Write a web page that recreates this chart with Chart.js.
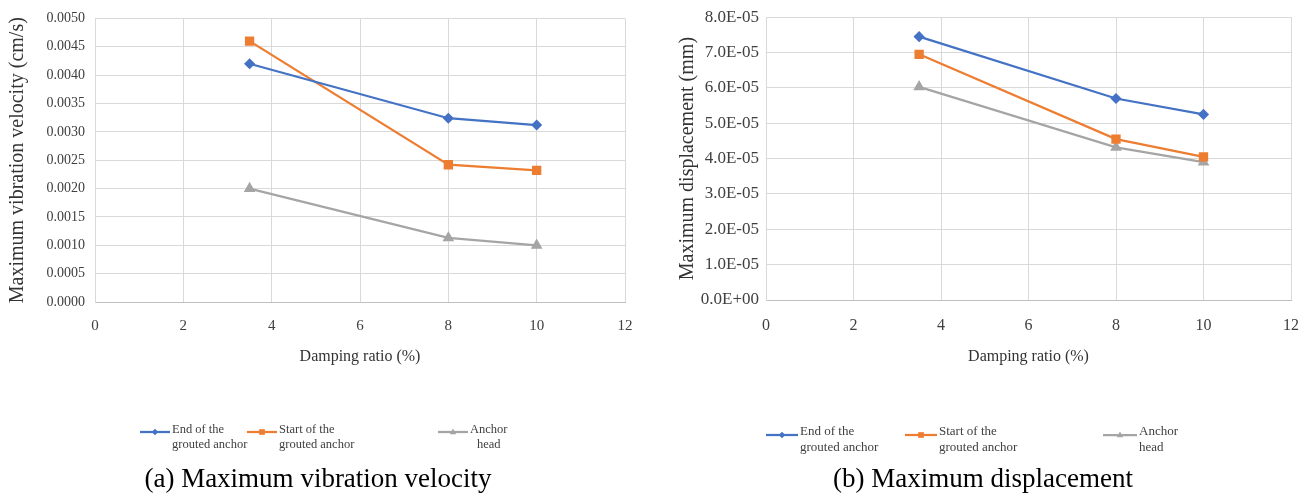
<!DOCTYPE html>
<html><head><meta charset="utf-8">
<script src="https://cdn.jsdelivr.net/npm/chart.js@4.4.1/dist/chart.umd.min.js"></script>
<style>
html,body{margin:0;padding:0;background:#fff;}
#wrap{position:relative;width:1315px;height:496px;overflow:hidden;background:#fff;}
canvas{position:absolute;top:0;}
.cap{position:absolute;font-family:'Liberation Serif','Times New Roman',serif;font-size:27px;color:#000;white-space:nowrap;transform:translateX(-50%);top:462px;line-height:32px;}
</style></head><body>
<div id="wrap">
<canvas id="c1" width="655" height="496" style="left:0"></canvas>
<canvas id="c2" width="660" height="496" style="left:655px"></canvas>
<div class="cap" style="left:318px">(a) Maximum vibration velocity</div>
<div class="cap" style="left:983px">(b) Maximum displacement</div>
</div>
<script>
// ---- data ----
const dampingRatio = [3.5, 8, 10];
const seriesNames = [['End of the', 'grouted anchor'], ['Start of the', 'grouted anchor'], ['Anchor', 'head']];
const velocityEnd = [0.0042, 0.00324, 0.00312];
const velocityStart = [0.0046, 0.00242, 0.00232];
const velocityHead = [0.0020, 0.00113, 0.0010];
const displacementEnd = [7.45e-5, 5.7e-5, 5.25e-5];
const displacementStart = [6.95e-5, 4.55e-5, 4.05e-5];
const displacementHead = [6.03e-5, 4.32e-5, 3.9e-5];
const xTickValues = [0, 2, 4, 6, 8, 10, 12];
const velocityTicks = [0, 0.0005, 0.0010, 0.0015, 0.0020, 0.0025, 0.0030, 0.0035, 0.0040, 0.0045, 0.0050];
const displacementTicks = [0, 1e-5, 2e-5, 3e-5, 4e-5, 5e-5, 6e-5, 7e-5, 8e-5];
const xTitle = 'Damping ratio (%)';
const velocityTitle = 'Maximum vibration velocity (cm/s)';
const displacementTitle = 'Maximum displacement (mm)';

// ---- styles ----
const colors = ['#4472C4', '#ED7D31', '#A5A5A5'];
const pointStyles = ['rectRot', 'rect', 'triangle'];
const pointRadii = [4, 5, 4.5];
const FONT = "'Liberation Serif','Times New Roman',serif";

function sciLabel(v) {
  if (v === 0) return '0.0E+00';
  let e = Math.floor(Math.log10(Math.abs(v)) + 1e-9);
  let m = v / Math.pow(10, e);
  const sign = e < 0 ? '-' : '+';
  const ae = Math.abs(e);
  return m.toFixed(1) + 'E' + sign + (ae < 10 ? '0' : '') + ae;
}

function drawMarker(ctx, style, x, y, r, color) {
  ctx.fillStyle = color; ctx.strokeStyle = color; ctx.lineWidth = 1;
  ctx.beginPath();
  if (style === 'rectRot') {
    ctx.moveTo(x, y - r); ctx.lineTo(x + r, y); ctx.lineTo(x, y + r); ctx.lineTo(x - r, y);
  } else if (style === 'rect') {
    const s = r * Math.SQRT1_2;
    ctx.rect(x - s, y - s, 2 * s, 2 * s);
  } else {
    ctx.moveTo(x, y - r); ctx.lineTo(x + r * 0.9, y + r * 0.6); ctx.lineTo(x - r * 0.9, y + r * 0.6);
  }
  ctx.closePath(); ctx.fill();
}

const legendPlugin = {
  id: 'twoLineLegend',
  afterDraw(chart, args, opts) {
    const ctx = chart.ctx;
    ctx.save();
    ctx.font = opts.fontSize + 'px ' + FONT;
    ctx.textBaseline = 'middle';
    ctx.textAlign = 'left';
    chart.data.datasets.forEach((ds, i) => {
      const it = opts.items[i];
      const y0 = opts.markY;
      ctx.strokeStyle = ds.borderColor; ctx.lineWidth = 2.25;
      ctx.beginPath(); ctx.moveTo(it.x, y0); ctx.lineTo(it.x + it.w, y0); ctx.stroke();
      drawMarker(ctx, ds.pointStyle, it.x + it.w / 2, y0, ds.pointRadius * 0.8, ds.borderColor);
      const lines = ds.legendLines;
      const widths = lines.map(l => ctx.measureText(l).width);
      const maxW = Math.max(...widths);
      const tx = it.x + it.w + 2;
      ctx.fillStyle = '#404040';
      lines.forEach((l, k) => {
        const x = it.center ? tx + (maxW - widths[k]) / 2 : tx;
        ctx.fillText(l, x, opts.lineY[k]);
      });
    });
    ctx.restore();
  }
};

function buildDatasets(seriesList) {
  return seriesList.map((vals, i) => ({
    label: seriesNames[i].join(' '),
    legendLines: seriesNames[i],
    data: dampingRatio.map((x, k) => ({ x: x, y: vals[k] })),
    borderColor: colors[i],
    backgroundColor: colors[i],
    pointBackgroundColor: colors[i],
    pointBorderColor: colors[i],
    pointStyle: pointStyles[i],
    pointRadius: pointRadii[i],
    borderWidth: 2.25,
    tension: 0,
    fill: false
  }));
}

function makeChart(id, seriesList, yTicks, yFmt, o) {
  return new Chart(document.getElementById(id), {
    type: 'line',
    data: { datasets: buildDatasets(seriesList) },
    plugins: [legendPlugin],
    options: {
      responsive: false, animation: false, devicePixelRatio: 1,
      layout: { padding: { top: o.top, right: o.right, bottom: 126, left: 0 } },
      plugins: {
        legend: { display: false }, tooltip: { enabled: false },
        twoLineLegend: o.legend
      },
      scales: {
        x: {
          type: 'linear', min: 0, max: 12,
          afterBuildTicks: s => { s.ticks = xTickValues.map(v => ({ value: v })); },
          afterFit: s => { s.height = o.xHeight; },
          grid: { color: '#d9d9d9', lineWidth: 1, drawTicks: false },
          border: { display: true, color: '#bfbfbf', width: 1 },
          ticks: { font: { family: FONT, size: o.xTickSize }, color: '#404040', padding: o.xTickPad, maxRotation: 0 },
          title: { display: true, text: xTitle, font: { family: FONT, size: 16 }, color: '#333', padding: { top: 0, bottom: 4 } }
        },
        y: {
          type: 'linear', min: yTicks[0], max: yTicks[yTicks.length - 1],
          afterBuildTicks: s => { s.ticks = yTicks.map(v => ({ value: v })); },
          afterFit: s => { s.width = o.yWidth; },
          grid: { color: '#d9d9d9', lineWidth: 1, drawTicks: false },
          border: { display: true, color: '#d9d9d9', width: 1 },
          ticks: { font: { family: FONT, size: o.yTickSize }, color: '#404040', padding: o.yTickPad, callback: v => yFmt(v) },
          title: { display: true, text: o.yTitle, font: { family: FONT, size: 20 }, color: '#333', padding: { top: o.yTitlePad, bottom: 0 } }
        }
      }
    }
  });
}

makeChart('c1', [velocityEnd, velocityStart, velocityHead], velocityTicks, v => v.toFixed(4), {
  top: 17, right: 30, xHeight: 68, yWidth: 95, xTickSize: 15, xTickPad: 15, yTickSize: 14, yTickPad: 10,
  yTitle: velocityTitle, yTitlePad: 6,
  legend: { fontSize: 12.5, markY: 432, lineY: [430, 445], items: [{ x: 140, w: 30 }, { x: 247, w: 30 }, { x: 438, w: 30, center: true }] }
});
makeChart('c2', [displacementEnd, displacementStart, displacementHead], displacementTicks, sciLabel, {
  top: 14, right: 19, xHeight: 70, yWidth: 111, xTickSize: 16, xTickPad: 16, yTickSize: 17, yTickPad: 7,
  yTitle: displacementTitle, yTitlePad: 21,
  legend: { fontSize: 13, markY: 435, lineY: [432, 448], items: [{ x: 111, w: 32 }, { x: 250, w: 32 }, { x: 448, w: 34 }] }
});
</script>
</body></html>
